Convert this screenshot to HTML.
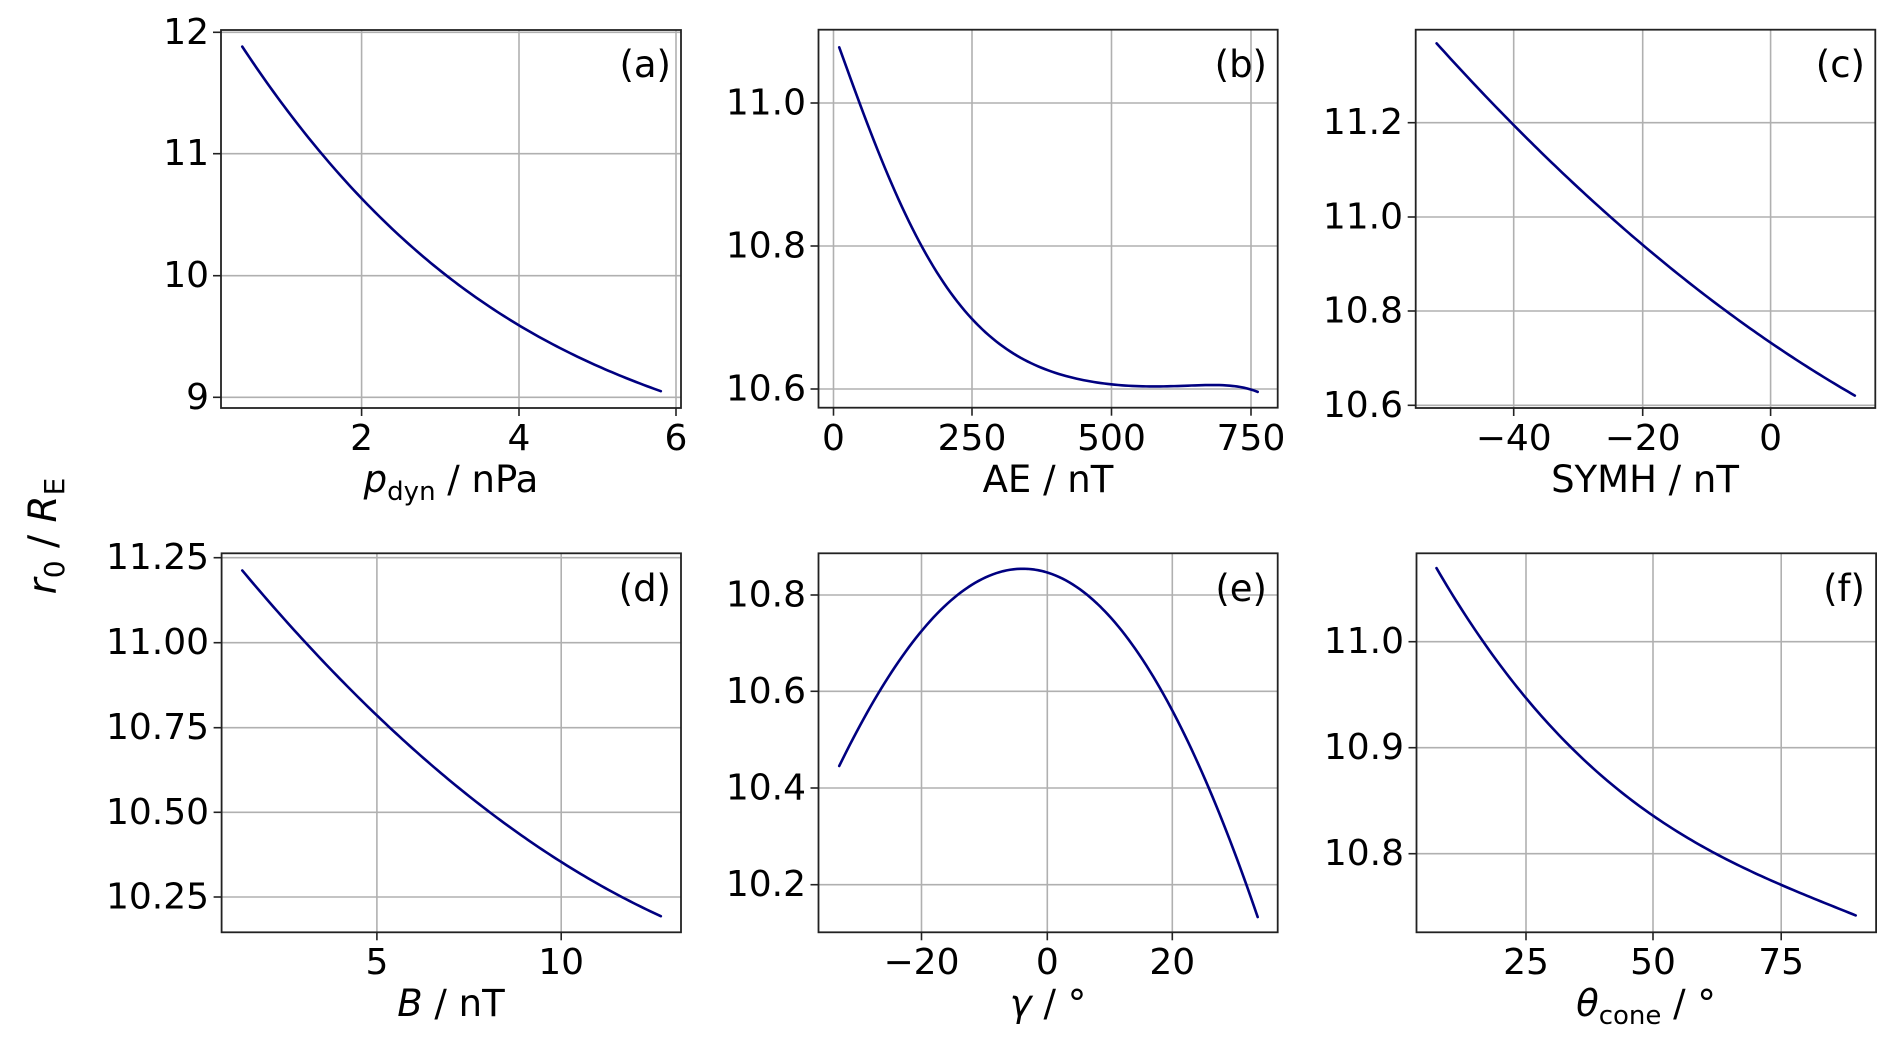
<!DOCTYPE html>
<html><head><meta charset="utf-8"><style>
html,body{margin:0;padding:0;background:#fff;}
svg{display:block;}
text{font-family:"DejaVu Sans","Liberation Sans",sans-serif;fill:#000;}
.t{font-size:36px;}
.yl{text-anchor:end;dominant-baseline:central;}
.xl{text-anchor:middle;}
.al{font-size:37px;text-anchor:middle;}
.pl{font-size:37px;text-anchor:end;}
.g{stroke:#b0b0b0;stroke-width:1.6;}
.sp{fill:none;stroke:#222;stroke-width:1.8;}
.tk{stroke:#222;stroke-width:1.6;}
.c{fill:none;stroke:#000080;stroke-width:2.6;stroke-linejoin:round;stroke-linecap:round;}
</style></head><body>
<svg id="s" width="1892" height="1041" viewBox="0 0 1892 1041" xmlns="http://www.w3.org/2000/svg">
<g id="grids"></g>
<g id="curves"></g>
<g id="spines"></g>
<g class="t yl">
<text x="209" y="32.3">12</text><text x="209" y="153.7">11</text><text x="209" y="275.7">10</text><text x="209" y="397.3">9</text>
<text x="806" y="103">11.0</text><text x="806" y="246">10.8</text><text x="806" y="389">10.6</text>
<text x="1403" y="122.7">11.2</text><text x="1403" y="217">11.0</text><text x="1403" y="311">10.8</text><text x="1403" y="405.3">10.6</text>
<text x="209" y="557.7">11.25</text><text x="209" y="642.7">11.00</text><text x="209" y="727.7">10.75</text><text x="209" y="812.3">10.50</text><text x="209" y="897">10.25</text>
<text x="806" y="595">10.8</text><text x="806" y="691.3">10.6</text><text x="806" y="788">10.4</text><text x="806" y="884.7">10.2</text>
<text x="1404" y="641.7">11.0</text><text x="1404" y="747.7">10.9</text><text x="1404" y="853.7">10.8</text>
</g>
<g class="t xl">
<text x="361.6" y="450">2</text><text x="519" y="450">4</text><text x="676" y="450">6</text>
<text x="833.5" y="450">0</text><text x="972" y="450">250</text><text x="1111.5" y="450">500</text><text x="1251" y="450">750</text>
<text x="1513.7" y="450">−40</text><text x="1642.7" y="450">−20</text><text x="1770.6" y="450">0</text>
<text x="376.9" y="974">5</text><text x="561.2" y="974">10</text>
<text x="921.5" y="974">−20</text><text x="1047.3" y="974">0</text><text x="1172.3" y="974">20</text>
<text x="1526" y="974">25</text><text x="1653" y="974">50</text><text x="1781.2" y="974">75</text>
</g>
<g class="al">
<text x="451" y="492"><tspan font-style="italic">p</tspan><tspan font-size="26" dy="8">dyn</tspan><tspan dy="-8"> / nPa</tspan></text>
<text x="1048" y="492">AE / nT</text>
<text x="1645" y="492">SYMH / nT</text>
<text x="451" y="1016"><tspan font-style="italic">B</tspan> / nT</text>
<text x="1048" y="1016"><tspan font-style="italic">γ</tspan> / °</text>
<text x="1646" y="1016"><tspan font-style="italic">θ</tspan><tspan font-size="26" dy="8">cone</tspan><tspan dy="-8"> / °</tspan></text>
</g>
<g class="pl">
<text x="671" y="77">(a)</text><text x="1267" y="77">(b)</text><text x="1865" y="77">(c)</text>
<text x="671" y="601">(d)</text><text x="1267" y="601">(e)</text><text x="1865" y="601">(f)</text>
</g>
<text transform="translate(56,536) rotate(-90)" style="font-size:39px;text-anchor:middle;"><tspan font-style="italic">r</tspan><tspan font-size="28" dy="8">0</tspan><tspan dy="-8"> / </tspan><tspan font-style="italic">R</tspan><tspan font-size="28" dy="8">E</tspan></text>
</svg>
<script>
var NS="http://www.w3.org/2000/svg";
function el(p,t,a){var e=document.createElementNS(NS,t);for(var k in a)e.setAttribute(k,a[k]);document.getElementById(p).appendChild(e);return e;}
function solve(A,b){var n=b.length;for(var i=0;i<n;i++){var m=i;for(var r=i+1;r<n;r++)if(Math.abs(A[r][i])>Math.abs(A[m][i]))m=r;var t=A[i];A[i]=A[m];A[m]=t;t=b[i];b[i]=b[m];b[m]=t;for(var r=i+1;r<n;r++){var f=A[r][i]/A[i][i];for(var c=i;c<n;c++)A[r][c]-=f*A[i][c];b[r]-=f*b[i];}}var x=new Array(n);for(var i=n-1;i>=0;i--){var s=b[i];for(var c=i+1;c<n;c++)s-=A[i][c]*x[c];x[i]=s/A[i][i];}return x;}
function fit(q,deg){var x0=q[0][0],x1=q[q.length-1][0],mid=(x0+x1)/2,h=(x1-x0)/2;var n=deg+1,A=[],b=[];for(var i=0;i<n;i++){A.push(new Array(n).fill(0));b.push(0);}
 q.forEach(function(p){var u=(p[0]-mid)/h,pw=[];for(var k=0;k<n;k++)pw.push(Math.pow(u,k));for(var i=0;i<n;i++){b[i]+=pw[i]*p[1];for(var j=0;j<n;j++)A[i][j]+=pw[i]*pw[j];}});
 var c=solve(A,b);return function(x){var u=(x-mid)/h,s=0;for(var k=0;k<n;k++)s+=c[k]*Math.pow(u,k);return s;};}
var P=[
 {l:221,r:681,t:30,b:408,xt:[361.6,519,676],yt:[32.3,153.7,275.7,397.3],ox:0,oy:0,fx:2.229,deg:3,
  pts:[[540,140],[806,595],[1000,830],[1157,980],[1350,1105],[1473,1175]]},
 {l:818.5,r:1277.7,t:29.7,b:407.7,xt:[833.5,972,1111.5,1251],yt:[103,246,389],ox:700,oy:0,fx:2.6,deg:6,
  pts:[[362,140],[410,300],[470,470],[540,650],[600,790],[660,900],[710,960],[800,1040],[900,1110],[1000,1145],[1100,1157],[1200,1156],[1300,1155],[1360,1158],[1450,1175]]},
 {l:1415.7,r:1875.3,t:29.7,b:408,xt:[1513.7,1642.7,1770.6],yt:[122.7,217,311,405.3],ox:1300,oy:0,fx:2.635,deg:2,
  pts:[[360,140],[563,365],[830,650],[903,728],[1100,935],[1240,1038],[1350,1110],[1462,1175]]},
 {l:221.6,r:681,t:553.3,b:932.3,xt:[376.9,561.2],yt:[557.7,642.7,727.7,812.3,897],ox:0,oy:520,fx:2.229,deg:2,
  pts:[[540,150],[680,368],[840,590],[1000,770],[1070,855],[1250,1030],[1473,1187]]},
 {l:818.5,r:1277.7,t:553.3,b:932.3,xt:[921.5,1047.3,1172.3],yt:[595,691.3,788,884.7],ox:700,oy:520,fx:2.6,deg:4,
  pts:[[362,738],[470,510],[576,330],[680,210],[760,165],[830,152],[903,165],[980,205],[1080,290],[1180,470],[1228,580],[1320,800],[1400,1030],[1450,1188]]},
 {l:1416.5,r:1876.1,t:553.3,b:932.3,xt:[1526,1653,1781.2],yt:[641.7,747.7,853.7],ox:1200,oy:520,fx:2.254,deg:3,
  pts:[[533,150],[630,340],[735,530],[830,680],[930,800],[1021,890],[1130,970],[1310,1095],[1478,1187]]}
];
P.forEach(function(p){
 p.xt.forEach(function(x){el("grids","line",{x1:x,x2:x,y1:p.t,y2:p.b,"class":"g"});el("spines","line",{x1:x,x2:x,y1:p.b,y2:p.b+8,"class":"tk"});});
 p.yt.forEach(function(y){el("grids","line",{x1:p.l,x2:p.r,y1:y,y2:y,"class":"g"});el("spines","line",{x1:p.l-8,x2:p.l,y1:y,y2:y,"class":"tk"});});
 el("spines","rect",{x:p.l,y:p.t,width:p.r-p.l,height:p.b-p.t,"class":"sp"});
 var q=p.pts.map(function(a){return [p.ox+a[0]/p.fx,p.oy+a[1]/3];});
 var f=fit(q,p.deg),x0=q[0][0],x1=q[q.length-1][0],d="";
 for(var i=0;i<=120;i++){var x=x0+(x1-x0)*i/120;d+=(i?" L":"M")+x.toFixed(2)+","+f(x).toFixed(2);}
 el("curves","path",{d:d,"class":"c"});
});
</script>
</body></html>
